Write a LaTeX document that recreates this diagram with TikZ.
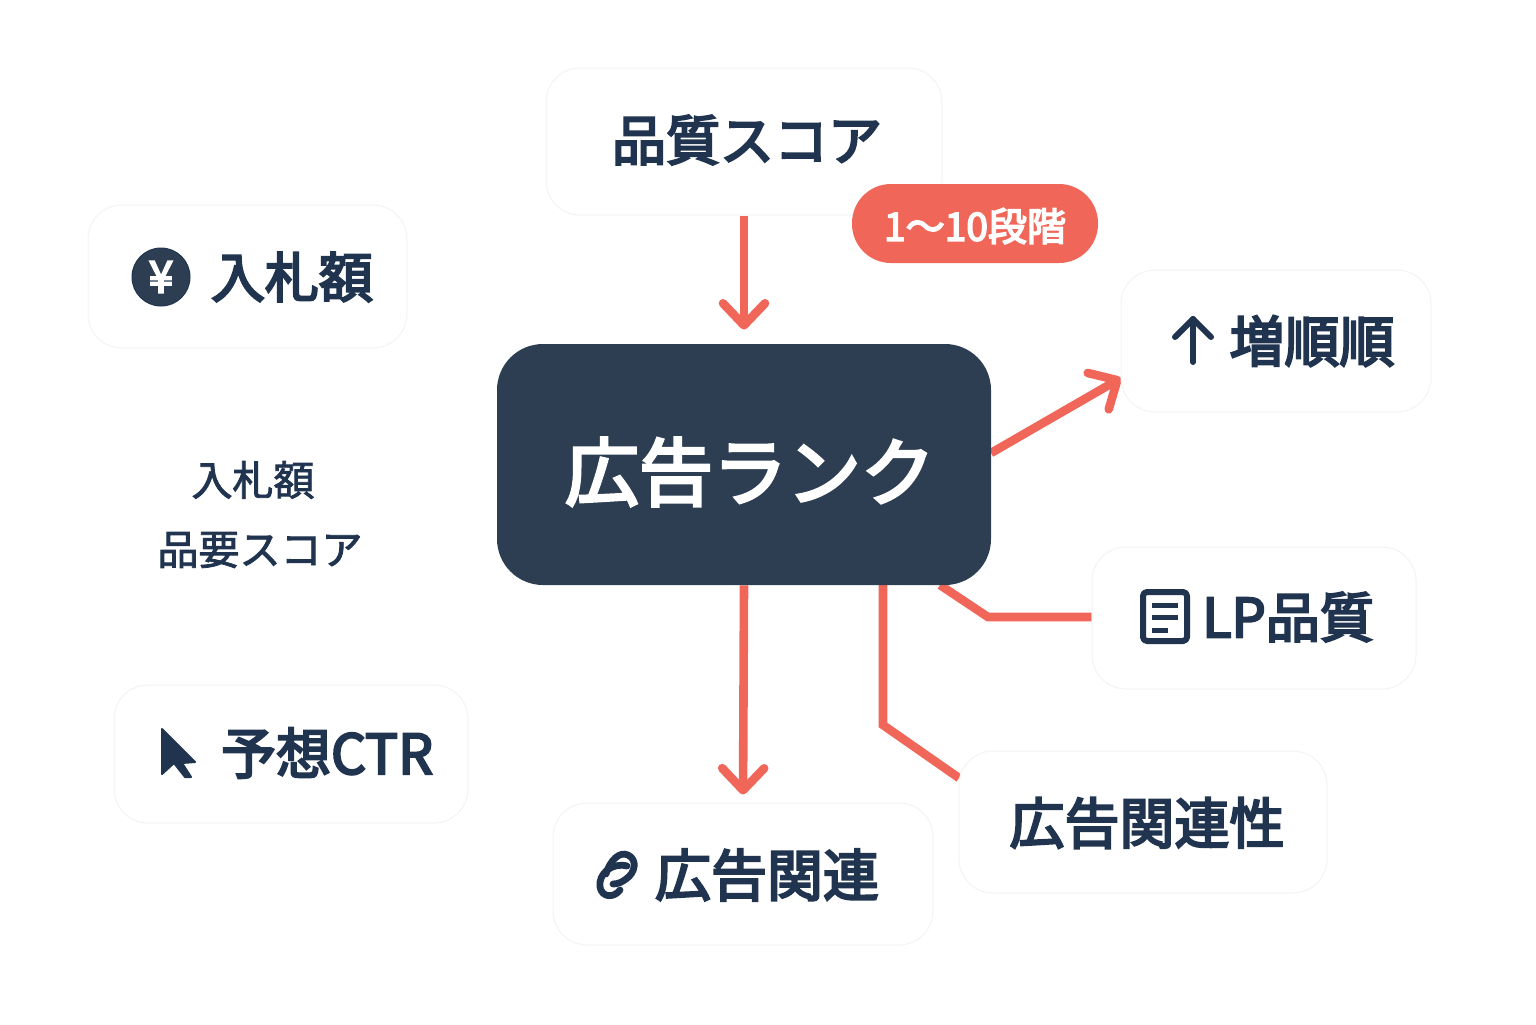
\documentclass[tikz,border=0pt]{standalone}
\usepackage{fontspec}
\usetikzlibrary{arrows.meta,backgrounds}
\setmainfont{Noto Sans CJK JP}[BoldFont={Noto Sans CJK JP},BoldFeatures={FakeBold=4}]
\newfontfamily\notefont{Noto Sans CJK JP}[FakeBold=2]
\definecolor{ink}{HTML}{20344F}
\definecolor{navy}{HTML}{2D3E52}
\definecolor{coral}{HTML}{F0675A}
\definecolor{edge}{HTML}{F2F3F4}
\newcommand{\fs}[1]{\fontsize{#1}{#1}\selectfont}
\tikzset{
  card/.style={draw=edge,line width=.5pt,fill=white,rounded corners=17pt,inner sep=0pt},
  label/.style={text=ink,inner sep=0pt,font=\fs{27}\bfseries},
  note/.style={text=ink,inner sep=0pt,font=\fs{20.5}\notefont},
  link/.style={draw=coral,line width=4.3pt},
  arrowed/.style={link,-{Straight Barb[length=11pt,width=21pt,line width=4.3pt,round]}},
  iconline/.style={draw=ink,line width=3pt,line cap=round,line join=round}
}
\begin{document}
\begin{tikzpicture}[x=.5pt,y=-.5pt]
\useasboundingbox (0,0) rectangle (1536,1024);
% cards
\node[card,minimum width=198pt,minimum height=73.5pt] (q) at (744,141.5) {};
\node[card,minimum width=159.5pt,minimum height=71.5pt] (bid) at (247.5,276.5) {};
\node[card,minimum width=155pt,minimum height=71pt] (up) at (1276,341) {};
\node[card,minimum width=162pt,minimum height=71pt] (lp) at (1254,618) {};
\node[card,minimum width=184pt,minimum height=71pt] (rel) at (1143,822) {};
\node[card,minimum width=190pt,minimum height=71pt] (adrel) at (743,874) {};
\node[card,minimum width=177pt,minimum height=69pt] (ctr) at (291,754) {};
\node[fill=navy,rounded corners=23pt,minimum width=247pt,minimum height=120.5pt,inner sep=0pt] (rank) at (744,464.5) {};
\node[fill=coral,rounded corners=19.5pt,minimum width=123pt,minimum height=39.5pt,inner sep=0pt] (badge) at (975,223.5) {};
% texts
\node[label] (tq) at (747,140) {品質スコア};
\node[label] (tbid) at (292,277) {入札額};
\node[label,font=\fs{27.5}\bfseries] (tup) at (1312,341) {増順順};
\node[label] (tlp) at (1288,617) {LP品質};
\node[label,font=\fs{27.5}\bfseries] (trel) at (1147,823) {広告関連性};
\node[label,font=\fs{28}\bfseries] (tadrel) at (767,875) {広告関連};
\node[label,font=\fs{27.5}\bfseries] (tctr) at (327,753) {予想CTR};
\node[text=white,inner sep=0pt,font=\fs{37}\bfseries] (trank) at (750,472) {広告ランク};
\node[text=white,inner sep=0pt,font=\fs{19.5}\bfseries] (tbadge) at (975,226) {1〜10段階};
\node[note] (n1) at (253,480) {入札額};
\node[note] (n2) at (260,550) {品要スコア};
% icons
\node[circle,fill=navy,draw=ink,line width=.5pt,minimum size=29pt,inner sep=0pt] (yen) at (161,277) {};
\node[text=white,inner sep=0pt,font=\fs{22}\bfseries] (yent) at (161,277) {¥};
\draw[iconline] (1193,362) -- (1193,319);
\draw[iconline] (1175,337) -- (1193,319) -- (1211,337);
\draw[iconline,rounded corners=2pt] (1143,592) rectangle (1187,641);
\draw[iconline,line cap=butt,line width=2.5pt] (1152,605) -- (1178,605) (1152,617) -- (1178,617) (1152,630) -- (1168,630);
\filldraw[ink,line width=1pt,line join=round] (162,729) -- (195,762) -- (182,763) -- (191,777) -- (185,777) -- (174,763) -- (162,774) -- cycle;
\draw[iconline,line width=3.4pt] (606,874) .. controls (610,860) and (620,851) .. (628,855) .. controls (638,860) and (635,873) .. (626,879) .. controls (622,882) and (618,884) .. (613,884);
\draw[iconline,line width=3.4pt] (627,866) .. controls (612,862) and (598,874) .. (600,887) .. controls (602,898) and (614,898) .. (620,890);
% connectors
\coordinate (a3) at (991,453);
\coordinate (b3) at (1121,378);
\coordinate (a4) at (940,585);
\coordinate (m4) at (988,617);
\coordinate (a5) at (883,585);
\coordinate (m5) at (883,725);
\coordinate (b5) at (959,778);
\begin{scope}[on background layer]
\draw[arrowed,shorten >=7pt] (q.south) -- (rank.north);
\draw[arrowed,shorten >=4pt] (rank.south) -- (adrel.north);
\draw[arrowed] (a3) -- (b3);
\draw[link] (a4) -- (m4) -- (m4 -| lp.west);
\draw[link] (a5) -- (m5) -- (b5);
\end{scope}
\end{tikzpicture}
\end{document}
